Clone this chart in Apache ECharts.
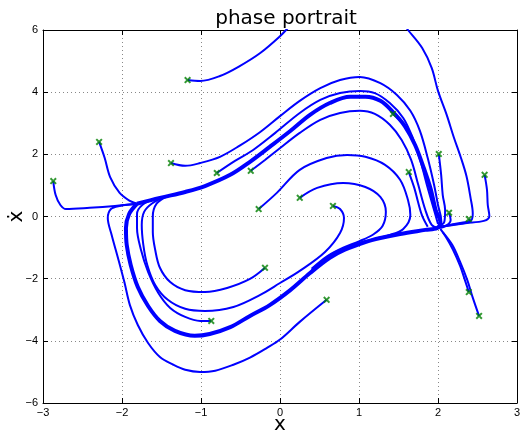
<!DOCTYPE html>
<html lang="en">
<head>
    <meta charset="UTF-8">
    <title>phase portrait</title>
    <script src="https://cdn.jsdelivr.net/npm/echarts@6/dist/echarts.min.js"></script>
</head>
<body style="margin:0;background:#fff">
<div id="main" style="width:521px;height:433px;"></div>
<script type="text/javascript">
    // axis ticks
    var xTicks = [-3, -2, -1, 0, 1, 2, 3];
    var yTicks = [-6, -4, -2, 0, 2, 4, 6];

    // limit cycle (thick bundle)
    var cycle = [[-1.81,0.41],[-1.52,0.60],[-1.20,0.79],[-0.95,0.98],[-0.63,1.34],[-0.38,1.76],[-0.13,2.24],[0.13,2.75],[0.38,3.27],[0.63,3.65],[0.89,3.85],[1.08,3.85],[1.27,3.72],[1.43,3.36],[1.58,2.91],[1.71,2.30],[1.82,1.56],[1.91,0.86],[1.97,0.21],[2.03,-0.17],[1.99,-0.37],[1.84,-0.43],[1.52,-0.56],[1.27,-0.69],[1.08,-0.82],[0.82,-1.07],[0.63,-1.33],[0.38,-1.82],[0.13,-2.37],[-0.13,-2.85],[-0.38,-3.20],[-0.63,-3.56],[-0.89,-3.78],[-1.08,-3.84],[-1.33,-3.68],[-1.52,-3.36],[-1.67,-2.88],[-1.80,-2.27],[-1.89,-1.56],[-1.94,-0.92],[-1.95,-0.37],[-1.91,0.08],[-1.81,0.41]];

    // trajectories, each one starts at its marker
    var trA = [[-2.87,1.14],[-2.84,0.69],[-2.78,0.37],[-2.71,0.24],[-2.41,0.28],[-2.09,0.34],[-1.81,0.41]];
    var trB = [[-2.29,2.40],[-2.22,1.89],[-2.15,1.27],[-2.03,0.76],[-1.90,0.50],[-1.81,0.41]];
    var trTop = [[-1.17,4.39],[-1.01,4.36],[-0.76,4.52],[-0.51,4.84],[-0.25,5.26],[0,5.8],[0.2,6.3],[0.6,6.9],[1.0,7.1],[1.4,6.7],[1.62,6.0],[1.80,5.42],[1.92,4.78],[2.00,4.04],[2.11,3.27],[2.20,2.55],[2.29,1.89],[2.36,1.3],[2.41,0.63],[2.44,0.1],[2.42,-0.12],[2.3,-0.2],[2.15,-0.27],[2.03,-0.33]];
    var trC = [[-1.38,1.72],[-1.20,1.63],[-1.01,1.72],[-0.76,1.92],[-0.51,2.28],[-0.25,2.72],[0,3.23],[0.25,3.72],[0.51,4.13],[0.76,4.39],[1.01,4.49],[1.27,4.29],[1.48,3.91],[1.65,3.40],[1.77,2.76],[1.87,1.88],[1.95,1.02],[2.00,0.37],[2.04,-0.11],[2.03,-0.33]];
    var trD = [[-0.80,1.40],[-0.57,1.79],[-0.34,2.14],[-0.06,2.69],[0.25,3.33],[0.51,3.75],[0.76,3.97],[1.01,4.04],[1.20,3.97],[1.39,3.65],[1.56,3.17],[1.68,2.53],[1.78,1.76],[1.87,0.92],[1.95,0.21],[2.00,-0.24]];
    var trE = [[-0.37,1.47],[-0.19,1.82],[-0.03,2.14],[0.25,2.69],[0.51,3.11],[0.76,3.33],[1.01,3.40],[1.20,3.30],[1.39,2.95],[1.54,2.46],[1.66,1.82],[1.75,1.02],[1.84,0.21],[1.92,-0.27],[2.00,-0.37]];
    var trF = [[-0.27,0.24],[-0.04,0.76],[0.25,1.50],[0.59,1.88],[0.85,1.98],[1.08,1.92],[1.33,1.66],[1.52,1.18],[1.62,0.53],[1.65,0.05],[1.56,-0.40],[1.38,-0.60],[1.2,-0.72],[1.0,-0.86],[0.8,-1.03],[0.6,-1.30],[0.4,-1.74]];
    var trG = [[0.25,0.60],[0.47,0.92],[0.80,1.08],[1.08,0.95],[1.27,0.63],[1.34,0.15],[1.30,-0.30],[1.18,-0.58],[1.0,-0.80],[0.8,-1.00],[0.6,-1.27],[0.4,-1.68]];
    var trH = [[0.67,0.34],[0.76,0.24],[0.81,-0.05],[0.76,-0.53],[0.57,-1.14],[0.25,-1.75],[0,-2.14],[-0.25,-2.52],[-0.59,-2.91],[-0.95,-3.04],[-1.20,-2.97],[-1.42,-2.68],[-1.58,-2.20],[-1.68,-1.56],[-1.73,-0.91],[-1.75,-0.27],[-1.72,0.15],[-1.62,0.42],[-1.45,0.64]];
    var trI = [[-0.19,-1.65],[-0.38,-2.01],[-0.67,-2.30],[-0.95,-2.43],[-1.20,-2.37],[-1.39,-2.11],[-1.52,-1.65],[-1.58,-1.07],[-1.61,-0.50],[-1.61,0.0],[-1.56,0.42],[-1.42,0.66]];
    var trJ = [[-0.87,-3.36],[-1.01,-3.36],[-1.20,-3.23],[-1.39,-2.94],[-1.54,-2.46],[-1.67,-1.78],[-1.76,-1.07],[-1.81,-0.37],[-1.81,0.08],[-1.74,0.38],[-1.58,0.57]];
    var trK = [[0.59,-2.68],[0.25,-3.39],[0,-3.96],[-0.16,-4.22],[-0.38,-4.54],[-0.59,-4.77],[-0.82,-4.96],[-1.01,-5.0],[-1.20,-4.93],[-1.35,-4.77],[-1.52,-4.52],[-1.67,-4.07],[-1.80,-3.49],[-1.90,-2.85],[-1.97,-2.11],[-2.05,-1.34],[-2.13,-0.60],[-2.18,-0.05],[-2.14,0.24],[-2.03,0.34],[-1.81,0.41]];
    var trL = [[1.43,3.30],[1.58,2.91],[1.71,2.30],[1.82,1.56],[1.91,0.86]];
    var trM = [[1.63,1.43],[1.70,0.92],[1.75,0.44],[1.80,0.02],[1.87,-0.33]];
    var trN = [[2.01,2.01],[2.04,1.34],[2.06,0.69],[2.09,0.21],[2.08,-0.17],[2.00,-0.33]];
    var trO = [[2.14,0.12],[2.16,-0.11],[2.10,-0.30],[2.00,-0.37]];
    var trP = [[2.39,-0.08],[2.41,-0.17],[2.28,-0.24],[2.03,-0.33]];
    var trQ = [[2.59,1.34],[2.62,0.86],[2.63,0.37],[2.65,0.02],[2.58,-0.14],[2.34,-0.21],[2.03,-0.33]];
    var trR = [[2.39,-2.43],[2.34,-2.04],[2.28,-1.59],[2.19,-1.07],[2.10,-0.66],[2.03,-0.40]];
    var trS = [[2.52,-3.20],[2.44,-2.61],[2.37,-2.04],[2.28,-1.46],[2.18,-0.91],[2.06,-0.50]];

    var trajectories = [trA, trB, trTop, trC, trD, trE, trF, trG, trH, trI, trJ, trK, trL, trM, trN, trO, trP, trQ, trR, trS];

    var minus = function (v) { return String(v).replace('-', '\u2212'); };

    var series = [];
    series.push({
        type: 'line', data: cycle, showSymbol: false, smooth: 0.35,
        lineStyle: {color: '#0000ff', width: 4}, silent: true
    });
    trajectories.forEach(function (t) {
        series.push({
            type: 'line', data: t, showSymbol: false, smooth: 0.35,
            lineStyle: {color: '#0000ff', width: 2}, silent: true
        });
    });
    // start markers
    series.push({
        type: 'scatter',
        data: trajectories.map(function (t) { return t[0]; }),
        symbol: 'path://M0,2L2,0L5,3L8,0L10,2L7,5L10,8L8,10L5,7L2,10L0,8L3,5Z',
        symbolSize: 7,
        itemStyle: {color: '#008000'},
        z: 10
    });

    var myChart = echarts.init(document.getElementById('main'));
    var axisCommon = {
        axisLine: {show: true, onZero: false, lineStyle: {color: '#000', width: 1}},
        axisTick: {show: true, inside: true, length: 5, lineStyle: {color: '#000'}}
    };
    var option = {
        animation: false,
        title: {
            text: 'phase portrait',
            left: 281, top: 4, textAlign: 'center',
            textStyle: {fontFamily: 'DejaVu Sans', fontSize: 20, fontWeight: 'normal', color: '#000'}
        },
        grid: {left: 43, right: 4, top: 30, bottom: 30, containLabel: false, outerBoundsMode: 'none'},
        xAxis: [
            Object.assign({
                type: 'value', min: xTicks[0], max: xTicks[xTicks.length - 1], interval: 1,
                name: 'x', nameLocation: 'middle', nameGap: 12, nameMoveOverlap: false,
                nameTextStyle: {fontFamily: 'DejaVu Sans', fontSize: 20, color: '#000'},
                axisLabel: {fontFamily: 'Liberation Sans', fontSize: 11, color: '#000', margin: 4, formatter: minus},
                splitLine: {show: true, lineStyle: {color: '#888', type: [1, 3]}}
            }, axisCommon),
            Object.assign({
                type: 'value', position: 'top', min: xTicks[0], max: xTicks[xTicks.length - 1], interval: 1,
                axisLabel: {show: false}, splitLine: {show: false}
            }, axisCommon)
        ],
        yAxis: [
            Object.assign({
                type: 'value', min: yTicks[0], max: yTicks[yTicks.length - 1], interval: 2,
                name: '\u1E8B', nameLocation: 'middle', nameGap: 16, nameRotate: 90, nameMoveOverlap: false,
                nameTextStyle: {fontFamily: 'DejaVu Sans', fontSize: 20, color: '#000'},
                axisLabel: {fontFamily: 'Liberation Sans', fontSize: 11, color: '#000', margin: 5, formatter: minus},
                splitLine: {show: true, lineStyle: {color: '#888', type: [1, 3]}}
            }, axisCommon),
            Object.assign({
                type: 'value', position: 'right', min: yTicks[0], max: yTicks[yTicks.length - 1], interval: 2,
                axisLabel: {show: false}, splitLine: {show: false}
            }, axisCommon)
        ],
        series: series
    };
    myChart.setOption(option);
</script>
</body>
</html>
